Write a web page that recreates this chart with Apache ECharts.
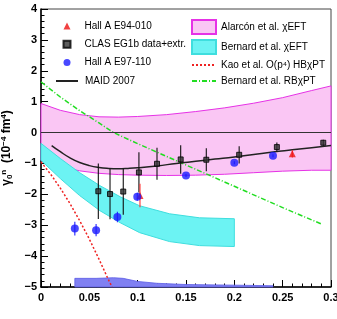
<!DOCTYPE html>
<html><head><meta charset="utf-8">
<script src="https://cdn.jsdelivr.net/npm/echarts@6/dist/echarts.min.js"></script>
<style>html,body{margin:0;padding:0;background:#fff}#c{width:337px;height:319px}</style>
</head><body><div id="c"></div>
<script>
// ---------- data ----------
const xTicks = [0, 0.05, 0.1, 0.15, 0.2, 0.25, 0.3];
const yTicks = [-5, -4, -3, -2, -1, 0, 1, 2, 3, 4];

// Hall A E94-010 (red triangles)
const e94Q = [0.1024, 0.260];
const e94V = [-2.04, -0.69];
const e94Err = [0.38, 0.12];

// CLAS EG1b data+extr. (black)
const clasQ = [0.0593, 0.0714, 0.0851, 0.1013, 0.120, 0.1445, 0.171, 0.205, 0.244, 0.292];
const clasV = [-1.90, -1.99, -1.91, -1.29, -1.01, -0.87, -0.88, -0.72, -0.47, -0.33];
const clasErr = [0.90, 0.82, 0.75, 0.65, 0.52, 0.46, 0.37, 0.28, 0.15, 0.10];

// Hall A E97-110 (blue circles)
const e97Q = [0.035, 0.057, 0.079, 0.0996, 0.150, 0.200, 0.240];
const e97V = [-3.11, -3.16, -2.73, -2.08, -1.39, -0.98, -0.75];
const e97Err = [0.22, 0.20, 0.17, 0.13, 0.05, 0.05, 0.05];

// E97-110 systematic band (height above -5)
const sysQ = [0.035, 0.057, 0.075, 0.085, 0.1, 0.12, 0.15, 0.2, 0.24];
const sysH = [0.28, 0.28, 0.30, 0.28, 0.18, 0.12, 0.08, 0.06, 0.04];

// MAID 2007
const maidQ = [0.011, 0.02, 0.03, 0.04, 0.05, 0.06, 0.07, 0.08, 0.09, 0.1, 0.12, 0.14, 0.16, 0.18, 0.2, 0.22, 0.24, 0.26, 0.28, 0.3];
const maidV = [-0.42, -0.62, -0.82, -0.97, -1.07, -1.13, -1.16, -1.17, -1.16, -1.14, -1.08, -1.00, -0.93, -0.86, -0.79, -0.71, -0.63, -0.56, -0.49, -0.42];

// Alarcon et al. chiEFT band
const alaQ = [0, 0.02, 0.04, 0.06, 0.08, 0.1, 0.13, 0.16, 0.19, 0.22, 0.25, 0.28, 0.3];
const alaHi = [0.94, 0.72, 0.58, 0.51, 0.50, 0.52, 0.58, 0.68, 0.80, 0.95, 1.13, 1.36, 1.51];
const alaLo = [-0.91, -1.10, -1.24, -1.32, -1.36, -1.38, -1.39, -1.38, -1.35, -1.30, -1.25, -1.22, -1.22];

// Bernard et al. chiEFT band
const berQ = [0, 0.02, 0.04, 0.061, 0.082, 0.102, 0.133, 0.164, 0.2];
const berHi = [-0.35, -0.84, -1.30, -1.72, -2.08, -2.37, -2.63, -2.76, -2.79];
const berLo = [-0.90, -1.49, -2.04, -2.53, -2.92, -3.24, -3.53, -3.66, -3.69];

// Kao et al. O(p4) HBchiPT
const kaoQ = [0, 0.01, 0.02, 0.03, 0.04, 0.05, 0.06, 0.07, 0.0735];
const kaoV = [-0.95, -1.35, -1.80, -2.30, -2.85, -3.45, -4.10, -4.78, -5.0];

// Bernard et al. RBchiPT
const rbQ = [0, 0.02, 0.04, 0.06, 0.075, 0.1, 0.15, 0.2, 0.25, 0.29];
const rbV = [1.64, 1.15, 0.71, 0.31, 0.0, -0.36, -1.05, -1.74, -2.43, -2.96];

// ---------- helpers ----------
const zip = (a, b) => a.map((x, i) => [x, b[i]]);
const FONT = '"Liberation Sans", Arial, Helvetica, sans-serif';

function band(name, qs, lo, hi, fill, stroke, z) {
  return {
    type: 'custom', name, z, silent: true,
    itemStyle: { color: fill, borderColor: stroke, borderWidth: 1 },
    data: [[qs[0], lo[0]]],
    renderItem(params, api) {
      const pts = [];
      for (let i = 0; i < qs.length; i++) pts.push(api.coord([qs[i], hi[i]]));
      for (let i = qs.length - 1; i >= 0; i--) pts.push(api.coord([qs[i], lo[i]]));
      return { type: 'polygon', shape: { points: pts }, style: { fill, stroke, lineWidth: 1 } };
    }
  };
}
function errBars(qs, vs, es, color, z) {
  return {
    type: 'custom', z, silent: true,
    data: qs.map((q, i) => [q, vs[i], es[i]]),
    encode: { x: 0, y: 1 },
    renderItem(params, api) {
      const x = api.value(0), y = api.value(1), e = api.value(2);
      const a = api.coord([x, y + e]), b = api.coord([x, y - e]);
      return { type: 'line', shape: { x1: a[0], y1: a[1], x2: b[0], y2: b[1] }, style: { stroke: color, lineWidth: 1.1 } };
    }
  };
}
const legText = (pad) => ({ fontSize: 10, fontFamily: FONT, color: '#000', lineHeight: 12, padding: [0, 0, 0, pad] });

const chart = echarts.init(document.getElementById('c'), null, { renderer: 'canvas' });
chart.setOption({
  animation: false,
  backgroundColor: '#fff',
  textStyle: { fontFamily: FONT },
  grid: { left: 41, right: 6, top: 9, bottom: 32, containLabel: false, outerBoundsMode: 'none',
    show: true, borderColor: '#444', borderWidth: 1, backgroundColor: 'transparent' },
  xAxis: {
    type: 'value', min: 0, max: 0.3, interval: 0.05,
    axisLine: { show: true, onZero: false, lineStyle: { color: '#000', width: 1.5 } },
    axisTick: { show: true, inside: true, length: 7, lineStyle: { color: '#000' } },
    minorTick: { show: true, splitNumber: 5, length: 3.5, lineStyle: { color: '#000' } },
    splitLine: { show: false },
    axisLabel: { color: '#000', fontWeight: 'bold', fontSize: 11, fontFamily: FONT, margin: 5,
      formatter: v => String(+v.toFixed(2)) },
    name: '{b|Q}{s|2}{b| (GeV/c)}{s|2}', nameLocation: 'end', nameGap: -8,
    nameTextStyle: { align: 'right', verticalAlign: 'top', padding: [14, 0, 0, 0],
      rich: { b: { fontWeight: 'bold', fontSize: 12, fontFamily: FONT, color: '#000' },
              s: { fontWeight: 'bold', fontSize: 8, fontFamily: FONT, color: '#000', verticalAlign: 'top', padding: [0, 0, 6, 0] } } }
  },
  yAxis: {
    type: 'value', min: -5, max: 4, interval: 1,
    axisLine: { show: true, onZero: false, lineStyle: { color: '#000', width: 1.5 } },
    axisTick: { show: true, inside: true, length: 7, lineStyle: { color: '#000' } },
    minorTick: { show: true, splitNumber: 5, length: 3.5, lineStyle: { color: '#000' } },
    splitLine: { show: false },
    axisLabel: { color: '#000', fontWeight: 'bold', fontSize: 11, fontFamily: FONT, margin: 4,
      formatter: v => String(v).replace('-', '\u2212') },
    name: '{g|\u03b3}{s|0}{u|n}{b|  (10}{u|\u22124}{b| fm}{u|4}{b|)}', nameLocation: 'middle', nameGap: 16, nameRotate: 90,
    nameTextStyle: {
      rich: { g: { fontWeight: 'bold', fontSize: 12, fontFamily: FONT, color: '#000' },
              b: { fontWeight: 'bold', fontSize: 12, fontFamily: FONT, color: '#000' },
              s: { fontWeight: 'bold', fontSize: 8, fontFamily: FONT, color: '#000', padding: [6, 0, 0, 0] },
              u: { fontWeight: 'bold', fontSize: 8, fontFamily: FONT, color: '#000', padding: [0, 0, 6, 0] } } }
  },
  legend: [
    {
      left: 57.5, top: 15, orient: 'vertical', itemWidth: 7, itemHeight: 7, itemGap: 6.3,
      textStyle: legText(9),
      data: [
        { name: 'Hall A E94-010' },
        { name: 'CLAS EG1b data+extr.' },
        { name: 'Hall A E97-110' }
      ]
    },
    {
      left: 50, top: 70, orient: 'vertical', itemWidth: 22, itemHeight: 12,
      textStyle: legText(2),
      data: [ { name: 'MAID 2007', itemStyle: { opacity: 0 } } ]
    },
    {
      left: 186, top: 14, orient: 'vertical', itemWidth: 24, itemHeight: 14, itemGap: 4,
      textStyle: legText(0),
      data: [
        { name: 'Alarc\u00f3n et al. \u03c7EFT', icon: 'rect' },
        { name: 'Bernard et al. \u03c7EFT', icon: 'rect' },
        { name: 'Kao et al. O(p\u2074) HB\u03c7PT', itemStyle: { opacity: 0 } },
        { name: 'Bernard et al. RB\u03c7PT', itemStyle: { opacity: 0 } }
      ]
    }
  ],
  series: [
    band('Alarc\u00f3n et al. \u03c7EFT', alaQ, alaLo, alaHi, '#fac6f4', '#e632e6', 1),
    band('Bernard et al. \u03c7EFT', berQ, berLo, berHi, '#6cf3f3', '#3fdede', 2),
    {
      type: 'custom', z: 3, silent: true, data: [[sysQ[0], -5]],
      renderItem(params, api) {
        const pts = [];
        for (let i = 0; i < sysQ.length; i++) pts.push(api.coord([sysQ[i], -5 + sysH[i]]));
        for (let i = sysQ.length - 1; i >= 0; i--) pts.push(api.coord([sysQ[i], -5]));
        return { type: 'polygon', shape: { points: pts }, style: { fill: '#8080f2', stroke: '#5c5ce6', lineWidth: 0.8 } };
      }
    },
    {
      name: 'Bernard et al. RB\u03c7PT', type: 'line', z: 4, symbol: 'none', silent: true,
      lineStyle: { color: '#22dd22', width: 1.5, type: [5, 2, 1, 2] }, itemStyle: { color: '#22dd22' },
      data: zip(rbQ, rbV)
    },
    {
      name: 'Kao et al. O(p\u2074) HB\u03c7PT', type: 'line', z: 4, symbol: 'none', silent: true,
      lineStyle: { color: '#ee2222', width: 1.5, type: [2, 2] }, itemStyle: { color: '#ee2222' },
      data: zip(kaoQ, kaoV)
    },
    {
      name: 'MAID 2007', type: 'line', z: 5, symbol: 'none', smooth: true, silent: true,
      lineStyle: { color: '#222', width: 1.5 }, itemStyle: { color: '#222' },
      data: zip(maidQ, maidV),
      markLine: { silent: true, symbol: 'none', label: { show: false }, lineStyle: { color: '#333', width: 1, type: 'solid' },
        data: [{ yAxis: 0 }] }
    },
    errBars(clasQ, clasV, clasErr, '#111', 6),
    errBars(e94Q, e94V, e94Err, '#ff3333', 6),
    errBars(e97Q, e97V, e97Err, '#2222ff', 6),
    {
      name: 'CLAS EG1b data+extr.', type: 'scatter', z: 7, symbol: 'rect', symbolSize: 5, silent: true,
      itemStyle: { color: '#333', borderColor: '#000', borderWidth: 1 },
      data: zip(clasQ, clasV)
    },
    {
      name: 'Hall A E94-010', type: 'scatter', z: 7, symbol: 'triangle', symbolSize: 7, silent: true,
      itemStyle: { color: '#ee1111' },
      data: zip(e94Q, e94V)
    },
    {
      name: 'Hall A E97-110', type: 'scatter', z: 8, symbol: 'circle', symbolSize: 8, silent: true,
      itemStyle: { color: '#1a1aff' },
      data: zip(e97Q, e97V)
    }
  ]
});
</script></body></html>
